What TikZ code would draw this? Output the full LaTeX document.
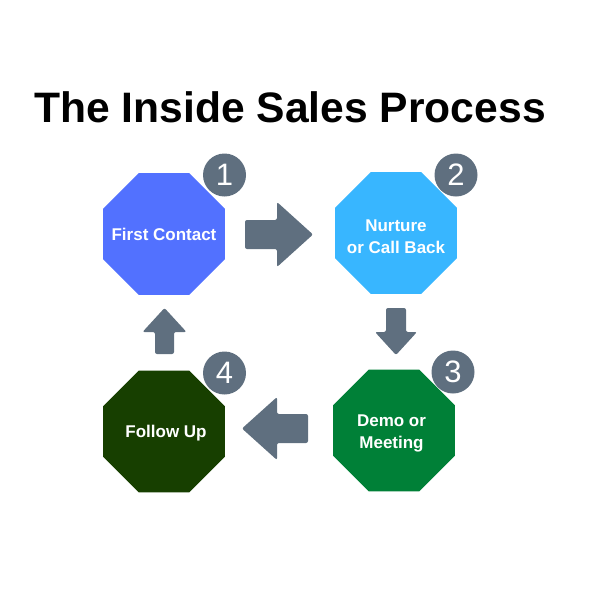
\documentclass[tikz,border=0pt]{standalone}
\usepackage{fontspec}
\usepackage{xcolor}
\setmainfont{Liberation Sans}
\usetikzlibrary{shapes.geometric}

\definecolor{contactblue}{HTML}{5271FF}
\definecolor{nurtureblue}{HTML}{38B6FF}
\definecolor{demogreen}{HTML}{008037}
\definecolor{followgreen}{HTML}{173F00}
\definecolor{slategray}{HTML}{5F6F7F}

\tikzset{
  octagon/.style={regular polygon, regular polygon sides=8, minimum size=132pt,
    inner sep=0pt, outer sep=0pt, draw=none},
  steptext/.style={text=white, align=center, inner sep=0pt,
    font=\fontsize{17}{22}\selectfont\bfseries},
  badge/.style={circle, fill=slategray, minimum size=43pt, inner sep=0pt,
    text=white, font=\fontsize{31}{31}\selectfont}
}

\begin{document}
\begin{tikzpicture}[x=1pt,y=-1pt]
    \useasboundingbox (0,0) rectangle (592,592);

    % Coordinates
    \coordinate (A) at (164,234);
    \coordinate (B) at (396,233);
    \coordinate (C) at (394,430.5);
    \coordinate (D) at (164,431.5);

    % Title
    \node[anchor=base, font=\fontsize{42.6}{42.6}\selectfont\bfseries] (title) at (290,122)
      {The Inside Sales Process};

    % Octagons
    \node[octagon, fill=contactblue] (contact) at (A) {};
    \node[octagon, fill=nurtureblue] (nurture) at (B) {};
    \node[octagon, fill=demogreen] (demo) at (C) {};
    \node[octagon, fill=followgreen] (follow) at (D) {};

    \node[steptext] (contacttext) at (contact) {First Contact};
    \node[steptext] (nurturetext) at ([yshift=-3.5]nurture) {Nurture\\or Call Back};
    \node[steptext] (demotext) at ([shift={(-2.5,2.5)}]demo) {Demo or\\Meeting};
    \node[steptext] (followtext) at ([shift={(2,1.5)}]follow) {Follow Up};

    % Badges
    \node[badge] (one) at ([shift={(60.5,-59)}]contact) {1};
    \node[badge] (two) at ([shift={(60,-58)}]nurture) {2};
    \node[badge] (three) at ([shift={(59,-58.5)}]demo) {3};
    \node[badge] (four) at ([shift={(60.5,-58.5)}]follow) {4};

    % Arrows
    \fill[slategray, rounded corners=2pt, shift={(279,234.5)}]
      (-34,-14.5) -- (-2,-14.5) -- (-2,-32.5) -- (34,0) -- (-2,32.5) -- (-2,14.5) -- (-34,14.5) -- cycle;
    \fill[slategray, rounded corners=2pt, shift={(396,331.5)}]
      (-10,-23.5) -- (10,-23.5) -- (10,0.5) -- (21,0.5) -- (0,23.5) -- (-21,0.5) -- (-10,0.5) -- cycle;
    \fill[slategray, rounded corners=2pt, shift={(275,428.5)}]
      (33,-14.5) -- (2,-14.5) -- (2,-31.5) -- (-33,0) -- (2,31.5) -- (2,14.5) -- (33,14.5) -- cycle;
    \fill[slategray, rounded corners=2pt, shift={(164.5,331)}]
      (-9.5,23) -- (-9.5,1) -- (-22,1) -- (0,-23) -- (22,1) -- (9.5,1) -- (9.5,23) -- cycle;

\end{tikzpicture}
\end{document}
